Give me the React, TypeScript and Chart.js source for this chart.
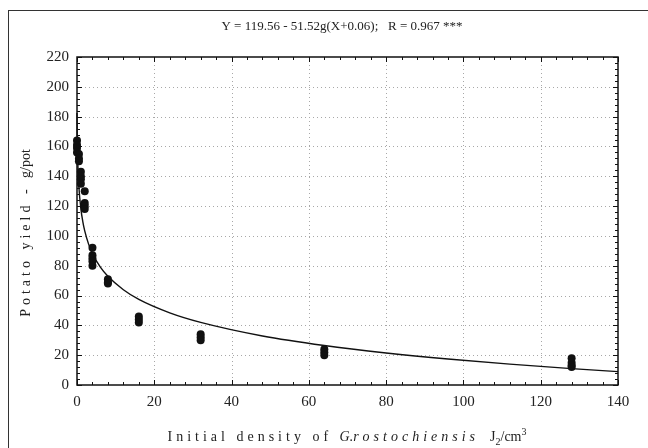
import React, { useEffect, useRef } from "react";
import { Chart, registerables } from "chart.js";

Chart.register(...registerables);

// Observed data: nematode density (J2/cm3) and potato yield (g/pot)
const densityLevels = [0, 0.5, 1, 2, 4, 8, 16, 32, 64, 128];
const yieldGroups = [
  [164, 161, 159, 156],
  [155, 152, 150],
  [143, 140, 138, 135],
  [130, 122, 120, 118],
  [92, 87, 85, 83, 80],
  [71, 69, 68],
  [46, 44, 42],
  [34, 32, 30],
  [24, 22, 20],
  [18, 15, 13, 12],
];

// Fitted curve
const fitX = [0, 0.05, 0.1, 0.25, 0.5, 1, 1.5, 2, 3, 4, 6, 8, 12, 16, 24, 32, 48, 64, 80, 96, 112, 128, 140];
const fitY = [182.5, 168.9, 160.6, 145.8, 132.5, 118.3, 109.6, 103.4, 94.5, 88.2, 79.2, 72.9, 63.9, 57.4, 48.4, 42.0, 32.9, 26.5, 21.5, 17.4, 14.0, 11.0, 9.0];

const xTicks = [0, 20, 40, 60, 80, 100, 120, 140];
const yTicks = [0, 20, 40, 60, 80, 100, 120, 140, 160, 180, 200, 220];

const titleText = "Y = 119.56 - 51.52g(X+0.06);   R = 0.967 ***";

const SERIF = "'Liberation Serif', 'Times New Roman', serif";

type Seg = { text: string; size: number; italic?: boolean; ls?: number; dy?: number };

function setFont(ctx: CanvasRenderingContext2D, s: Seg) {
  ctx.font = `${s.italic ? "italic" : "normal"} normal 400 ${s.size}px ${SERIF}`;
}

function segWidth(ctx: CanvasRenderingContext2D, s: Seg) {
  setFont(ctx, s);
  let w = 0;
  for (const ch of s.text) w += ctx.measureText(ch).width + (s.ls || 0);
  return w;
}

function drawRich(ctx: CanvasRenderingContext2D, segs: Seg[], cx: number, baseline: number) {
  let total = 0;
  for (const s of segs) total += segWidth(ctx, s);
  let xpos = cx - total / 2;
  ctx.textAlign = "left";
  ctx.textBaseline = "alphabetic";
  for (const s of segs) {
    setFont(ctx, s);
    for (const ch of s.text) {
      ctx.fillText(ch, xpos, baseline + (s.dy || 0));
      xpos += ctx.measureText(ch).width + (s.ls || 0);
    }
  }
}

const decor = {
  id: "decor",
  beforeDatasetsDraw(chart: any) {
    const { ctx, chartArea } = chart;
    const { left, right, top, bottom } = chartArea;
    const xs = chart.scales.x;
    const ys = chart.scales.y;
    ctx.save();
    ctx.strokeStyle = "#a8a8a8";
    ctx.lineWidth = 1;
    ctx.setLineDash([1, 3]);
    for (const v of xTicks) {
      if (v === xTicks[0] || v === xTicks[xTicks.length - 1]) continue;
      const px = Math.round(xs.getPixelForValue(v)) + 0.5;
      ctx.beginPath();
      ctx.moveTo(px, top);
      ctx.lineTo(px, bottom);
      ctx.stroke();
    }
    for (const v of yTicks) {
      if (v === yTicks[0] || v === yTicks[yTicks.length - 1]) continue;
      const py = Math.round(ys.getPixelForValue(v)) + 0.5;
      ctx.beginPath();
      ctx.moveTo(left, py);
      ctx.lineTo(right, py);
      ctx.stroke();
    }
    ctx.restore();
  },
  afterDatasetsDraw(chart: any) {
    const { ctx, chartArea } = chart;
    const { left, right, top, bottom } = chartArea;
    const xs = chart.scales.x;
    const ys = chart.scales.y;
    ctx.save();
    ctx.strokeStyle = "#111";
    ctx.lineWidth = 1.5;
    ctx.strokeRect(left, top, right - left, bottom - top);
    ctx.lineWidth = 1;
    ctx.beginPath();
    for (let v = xs.min; v <= xs.max; v += 4) {
      const px = Math.round(xs.getPixelForValue(v)) + 0.5;
      const len = v % 20 === 0 ? 5 : 3;
      ctx.moveTo(px, bottom);
      ctx.lineTo(px, bottom - len);
      ctx.moveTo(px, top);
      ctx.lineTo(px, top + len);
    }
    for (let v = ys.min; v <= ys.max; v += 4) {
      const py = Math.round(ys.getPixelForValue(v)) + 0.5;
      const len = v % 20 === 0 ? 5 : 3;
      ctx.moveTo(left, py);
      ctx.lineTo(left + len, py);
      ctx.moveTo(right, py);
      ctx.lineTo(right - len, py);
    }
    ctx.stroke();
    ctx.restore();
  },
  afterDraw(chart: any) {
    const { ctx } = chart;
    ctx.save();
    // outer frame
    ctx.strokeStyle = "#333";
    ctx.lineWidth = 1;
    ctx.strokeRect(8.5, 10.5, 800, 600);
    ctx.fillStyle = "#222";
    // title
    ctx.font = `13px ${SERIF}`;
    ctx.textAlign = "center";
    ctx.textBaseline = "middle";
    ctx.fillText(titleText, 342, 27);
    // x axis label
    drawRich(
      ctx,
      [
        { text: "Initial density of ", size: 14, ls: 4 },
        { text: "G.", size: 14, italic: true },
        { text: "rostochiensis ", size: 14, italic: true, ls: 4 },
        { text: " J", size: 14 },
        { text: "2", size: 10, dy: 4 },
        { text: "/cm", size: 14 },
        { text: "3", size: 10, dy: -6 },
      ],
      347,
      441
    );
    // y axis label
    ctx.translate(30, 233);
    ctx.rotate(-Math.PI / 2);
    drawRich(
      ctx,
      [
        { text: "Potato yield - ", size: 14, ls: 4 },
        { text: "g/pot", size: 14 },
      ],
      0,
      0
    );
    ctx.restore();
  },
};

export default function App() {
  const ref = useRef<HTMLCanvasElement>(null);
  useEffect(() => {
    if (!ref.current) return;
    const points: { x: number; y: number }[] = [];
    densityLevels.forEach((d, i) => yieldGroups[i].forEach((v) => points.push({ x: d, y: v })));
    const fit = fitX.map((x, i) => ({ x, y: fitY[i] }));
    const chart = new Chart(ref.current, {
      type: "scatter",
      data: {
        datasets: [
          {
            type: "line",
            data: fit,
            borderColor: "#111",
            borderWidth: 1.4,
            pointRadius: 0,
            cubicInterpolationMode: "monotone",
            fill: false,
          } as any,
          {
            data: points,
            backgroundColor: "#111",
            borderColor: "#111",
            pointRadius: 4,
            pointBorderWidth: 0,
          },
        ],
      },
      options: {
        responsive: false,
        animation: false,
        clip: false as any,
        layout: { padding: { left: 0, top: 57, right: 30, bottom: 0 } },
        plugins: { legend: { display: false }, tooltip: { enabled: false }, title: { display: false } },
        scales: {
          x: {
            type: "linear",
            min: 0,
            max: 140,
            afterBuildTicks: (s: any) => {
              s.ticks = xTicks.map((v) => ({ value: v }));
            },
            afterFit: (s: any) => {
              s.height = 63;
            },
            grid: { display: false, drawTicks: false },
            border: { display: false },
            ticks: { padding: 8, color: "#222", font: { family: SERIF, size: 15 }, maxRotation: 0 },
          },
          y: {
            type: "linear",
            min: 0,
            max: 220,
            afterBuildTicks: (s: any) => {
              s.ticks = yTicks.map((v) => ({ value: v }));
            },
            afterFit: (s: any) => {
              s.width = 77;
            },
            grid: { display: false, drawTicks: false },
            border: { display: false },
            ticks: { padding: 8, color: "#222", font: { family: SERIF, size: 15 } },
          },
        },
      },
      plugins: [decor],
    });
    return () => chart.destroy();
  }, []);
  return (
    <div style={{ position: "relative", width: 648, height: 448, overflow: "hidden" }}>
      <style>{`body{margin:0;overflow:hidden;}`}</style>
      <canvas ref={ref} width={648} height={448} style={{ display: "block" }} />
    </div>
  );
}
